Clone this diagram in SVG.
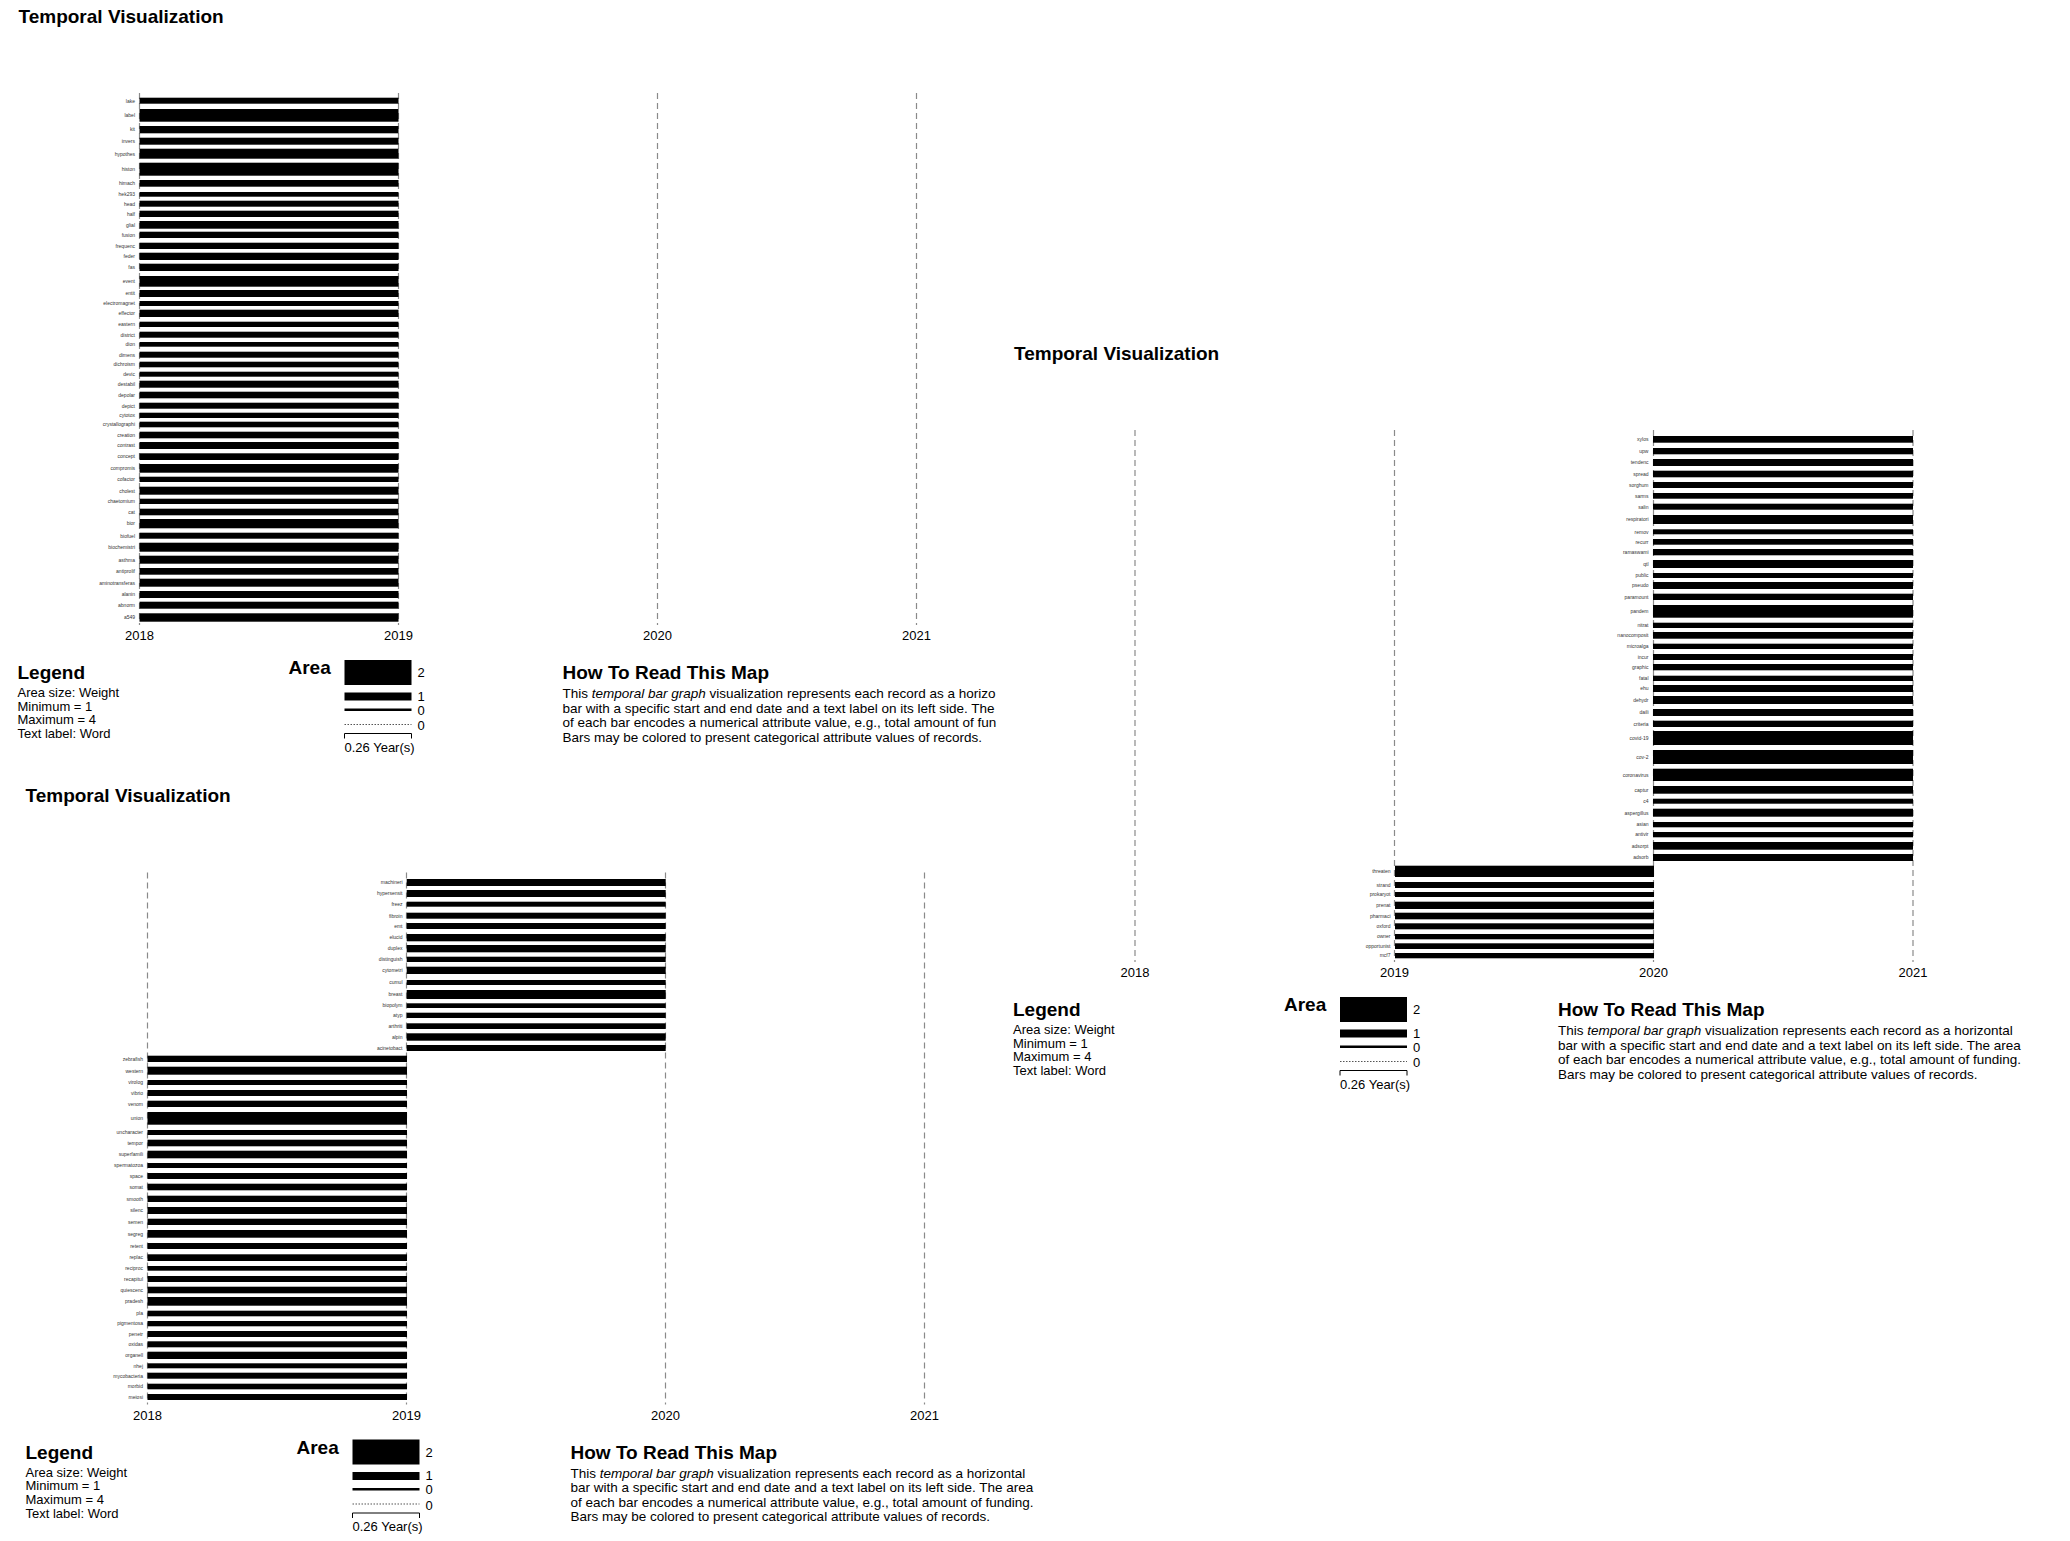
<svg xmlns="http://www.w3.org/2000/svg" width="2070" height="1541" viewBox="0 0 2070 1541">
<style>
text{font-family:"Liberation Sans",Arial,Helvetica,sans-serif;fill:#000}
.h{font-size:19px;font-weight:bold}
.t{font-size:13px}
.b{font-size:13.5px}
.yr{font-size:13px;text-anchor:middle}
.lb{font-size:5px;fill:#333;text-anchor:end}
.bars rect{fill:#000}
.grid line{stroke:#8a8a8a;stroke-width:1.2;stroke-dasharray:6,4}
.dot{stroke:#555;stroke-width:1.2;stroke-dasharray:1.5,1.5}
.brk{fill:none;stroke:#000;stroke-width:1}
</style>
<defs>
<clipPath id="clip1"><rect x="0" y="0" width="1002" height="800"/></clipPath>
</defs>
<rect width="2070" height="1541" fill="#fff"/>

<!-- ================= PANEL 1 ================= -->
<g id="panel-1">
<text class="h" x="18.5" y="23">Temporal Visualization</text>
<g id="grid-1" class="grid">
<line x1="139.5" y1="93" x2="139.5" y2="625"/>
<line x1="398.5" y1="93" x2="398.5" y2="625"/>
<line x1="657.5" y1="93" x2="657.5" y2="625"/>
<line x1="916.5" y1="93" x2="916.5" y2="625"/>
</g>
<g id="axis-1">
<text class="yr" x="139.5" y="640">2018</text>
<text class="yr" x="398.5" y="640">2019</text>
<text class="yr" x="657.5" y="640">2020</text>
<text class="yr" x="916.5" y="640">2021</text>
</g>
<g id="bars-1" class="bars">
<g id="p1-lake"><rect x="139.5" y="97.7" width="259" height="6"/><text class="lb" x="135" y="102.5">lake</text></g>
<g id="p1-label"><rect x="139.5" y="109" width="259" height="12.7"/><text class="lb" x="135" y="117.1">label</text></g>
<g id="p1-kit"><rect x="139.5" y="126" width="259" height="7.3"/><text class="lb" x="135" y="131.4">kit</text></g>
<g id="p1-invers"><rect x="139.5" y="137.7" width="259" height="7"/><text class="lb" x="135" y="143">invers</text></g>
<g id="p1-hypothes"><rect x="139.5" y="148.7" width="259" height="10"/><text class="lb" x="135" y="155.5">hypothes</text></g>
<g id="p1-histon"><rect x="139.5" y="162.7" width="259" height="13"/><text class="lb" x="135" y="171">histon</text></g>
<g id="p1-himach"><rect x="139.5" y="180" width="259" height="6.7"/><text class="lb" x="135" y="185.1">himach</text></g>
<g id="p1-hek293"><rect x="139.5" y="192" width="259" height="4.7"/><text class="lb" x="135" y="196.1">hek293</text></g>
<g id="p1-head"><rect x="139.5" y="200.7" width="259" height="6"/><text class="lb" x="135" y="205.5">head</text></g>
<g id="p1-half"><rect x="139.5" y="210.7" width="259" height="6.3"/><text class="lb" x="135" y="215.6">half</text></g>
<g id="p1-glial"><rect x="139.5" y="221" width="259" height="7.7"/><text class="lb" x="135" y="226.6">glial</text></g>
<g id="p1-fusion"><rect x="139.5" y="231.7" width="259" height="6.3"/><text class="lb" x="135" y="236.6">fusion</text></g>
<g id="p1-frequenc"><rect x="139.5" y="242.7" width="259" height="6.3"/><text class="lb" x="135" y="247.6">frequenc</text></g>
<g id="p1-feder"><rect x="139.5" y="252.7" width="259" height="7.3"/><text class="lb" x="135" y="258.1">feder</text></g>
<g id="p1-fas"><rect x="139.5" y="263.7" width="259" height="7.3"/><text class="lb" x="135" y="269.1">fas</text></g>
<g id="p1-event"><rect x="139.5" y="276" width="259" height="10.7"/><text class="lb" x="135" y="283.1">event</text></g>
<g id="p1-entit"><rect x="139.5" y="290" width="259" height="7"/><text class="lb" x="135" y="295.3">entit</text></g>
<g id="p1-electromagnet"><rect x="139.5" y="301" width="259" height="5"/><text class="lb" x="135" y="305.3">electromagnet</text></g>
<g id="p1-effector"><rect x="139.5" y="309.7" width="259" height="7.3"/><text class="lb" x="135" y="315.1">effector</text></g>
<g id="p1-eastern"><rect x="139.5" y="321.7" width="259" height="5.3"/><text class="lb" x="135" y="326.1">eastern</text></g>
<g id="p1-district"><rect x="139.5" y="331.7" width="259" height="6"/><text class="lb" x="135" y="336.5">district</text></g>
<g id="p1-dion"><rect x="139.5" y="342" width="259" height="4.7"/><text class="lb" x="135" y="346.1">dion</text></g>
<g id="p1-dimens"><rect x="139.5" y="351.7" width="259" height="6"/><text class="lb" x="135" y="356.5">dimens</text></g>
<g id="p1-dichroism"><rect x="139.5" y="361.7" width="259" height="5.6"/><text class="lb" x="135" y="366.3">dichroism</text></g>
<g id="p1-devic"><rect x="139.5" y="371.7" width="259" height="5"/><text class="lb" x="135" y="376">devic</text></g>
<g id="p1-destabil"><rect x="139.5" y="380.7" width="259" height="7"/><text class="lb" x="135" y="386">destabil</text></g>
<g id="p1-depolar"><rect x="139.5" y="391.7" width="259" height="6.6"/><text class="lb" x="135" y="396.8">depolar</text></g>
<g id="p1-depict"><rect x="139.5" y="402.7" width="259" height="6"/><text class="lb" x="135" y="407.5">depict</text></g>
<g id="p1-cytotox"><rect x="139.5" y="412.7" width="259" height="5.3"/><text class="lb" x="135" y="417.1">cytotox</text></g>
<g id="p1-crystallographi"><rect x="139.5" y="421.7" width="259" height="5.6"/><text class="lb" x="135" y="426.3">crystallographi</text></g>
<g id="p1-creation"><rect x="139.5" y="431.7" width="259" height="6.6"/><text class="lb" x="135" y="436.8">creation</text></g>
<g id="p1-contrast"><rect x="139.5" y="442" width="259" height="7"/><text class="lb" x="135" y="447.3">contrast</text></g>
<g id="p1-concept"><rect x="139.5" y="453.3" width="259" height="6.7"/><text class="lb" x="135" y="458.4">concept</text></g>
<g id="p1-compromis"><rect x="139.5" y="464" width="259" height="8.7"/><text class="lb" x="135" y="470.1">compromis</text></g>
<g id="p1-cofactor"><rect x="139.5" y="476.7" width="259" height="5.3"/><text class="lb" x="135" y="481.1">cofactor</text></g>
<g id="p1-cholest"><rect x="139.5" y="486.7" width="259" height="8"/><text class="lb" x="135" y="492.5">cholest</text></g>
<g id="p1-chaetomium"><rect x="139.5" y="498.7" width="259" height="5.3"/><text class="lb" x="135" y="503.1">chaetomium</text></g>
<g id="p1-cat"><rect x="139.5" y="508.7" width="259" height="6.6"/><text class="lb" x="135" y="513.8">cat</text></g>
<g id="p1-bior"><rect x="139.5" y="519" width="259" height="9.3"/><text class="lb" x="135" y="525.4">bior</text></g>
<g id="p1-biofuel"><rect x="139.5" y="532.7" width="259" height="6"/><text class="lb" x="135" y="537.5">biofuel</text></g>
<g id="p1-biochemistri"><rect x="139.5" y="542.7" width="259" height="9"/><text class="lb" x="135" y="549">biochemistri</text></g>
<g id="p1-asthma"><rect x="139.5" y="555.7" width="259" height="8"/><text class="lb" x="135" y="561.5">asthma</text></g>
<g id="p1-antiprolif"><rect x="139.5" y="568" width="259" height="6.7"/><text class="lb" x="135" y="573.1">antiprolif</text></g>
<g id="p1-aminotransferas"><rect x="139.5" y="578.7" width="259" height="8"/><text class="lb" x="135" y="584.5">aminotransferas</text></g>
<g id="p1-alanin"><rect x="139.5" y="591" width="259" height="7"/><text class="lb" x="135" y="596.3">alanin</text></g>
<g id="p1-abnorm"><rect x="139.5" y="601.7" width="259" height="7"/><text class="lb" x="135" y="607">abnorm</text></g>
<g id="p1-a549"><rect x="139.5" y="613.3" width="259" height="8.4"/><text class="lb" x="135" y="619.3">a549</text></g>
</g>
<g id="legend-1" transform="translate(139.5,93)">
<text class="h" x="-122" y="586">Legend</text>
<text class="t" x="-122" y="604">Area size: Weight</text>
<text class="t" x="-122" y="617.7">Minimum = 1</text>
<text class="t" x="-122" y="631.3">Maximum = 4</text>
<text class="t" x="-122" y="645">Text label: Word</text>
<text class="h" x="149" y="581">Area</text>
<rect x="205" y="567" width="67" height="25"/>
<text class="t" x="278" y="584">2</text>
<rect x="205" y="599.5" width="67" height="8"/>
<text class="t" x="278" y="607.5">1</text>
<rect x="205" y="615.5" width="67" height="2.5"/>
<text class="t" x="278" y="621.5">0</text>
<line class="dot" x1="205" y1="631.5" x2="272" y2="631.5"/>
<text class="t" x="278" y="637">0</text>
<path class="brk" d="M205,645.5 V640.5 H272 V645.5"/>
<text class="t" x="205" y="658.5">0.26 Year(s)</text>
<g clip-path="url(#clip1)" transform="translate(-139.5,-93)">
<text class="h" x="562.5" y="679">How To Read This Map</text>
<text class="b" x="562.5" y="698">This <tspan font-style="italic">temporal bar graph</tspan> visualization represents each record as a horizo</text>
<text class="b" x="562.5" y="712.5">bar with a specific start and end date and a text label on its left side. The</text>
<text class="b" x="562.5" y="727">of each bar encodes a numerical attribute value, e.g., total amount of fun</text>
<text class="b" x="562.5" y="741.5">Bars may be colored to present categorical attribute values of records.</text>
</g>
</g>
</g>

<!-- ================= PANEL 2 ================= -->
<g id="panel-2">
<text class="h" x="25.5" y="802">Temporal Visualization</text>
<g id="grid-2" class="grid">
<line x1="147.5" y1="872.5" x2="147.5" y2="1404.5"/>
<line x1="406.5" y1="872.5" x2="406.5" y2="1404.5"/>
<line x1="665.5" y1="872.5" x2="665.5" y2="1404.5"/>
<line x1="924.5" y1="872.5" x2="924.5" y2="1404.5"/>
</g>
<g id="axis-2">
<text class="yr" x="147.5" y="1419.5">2018</text>
<text class="yr" x="406.5" y="1419.5">2019</text>
<text class="yr" x="665.5" y="1419.5">2020</text>
<text class="yr" x="924.5" y="1419.5">2021</text>
</g>
<g id="bars-2" class="bars">
<g id="p2-machineri"><rect x="406.7" y="879" width="259" height="7"/><text class="lb" x="402.5" y="884.3">machineri</text></g>
<g id="p2-hypersensit"><rect x="406.7" y="890" width="259" height="7"/><text class="lb" x="402.5" y="895.3">hypersensit</text></g>
<g id="p2-freez"><rect x="406.7" y="901.7" width="259" height="5"/><text class="lb" x="402.5" y="906">freez</text></g>
<g id="p2-fibroin"><rect x="406.7" y="912.7" width="259" height="6"/><text class="lb" x="402.5" y="917.5">fibroin</text></g>
<g id="p2-emt"><rect x="406.7" y="923" width="259" height="6"/><text class="lb" x="402.5" y="927.8">emt</text></g>
<g id="p2-elucid"><rect x="406.7" y="934" width="259" height="7.3"/><text class="lb" x="402.5" y="939.4">elucid</text></g>
<g id="p2-duplex"><rect x="406.7" y="945" width="259" height="7.3"/><text class="lb" x="402.5" y="950.4">duplex</text></g>
<g id="p2-distinguish"><rect x="406.7" y="956.7" width="259" height="5.3"/><text class="lb" x="402.5" y="961.1">distinguish</text></g>
<g id="p2-cytometri"><rect x="406.7" y="966.7" width="259" height="7.3"/><text class="lb" x="402.5" y="972.1">cytometri</text></g>
<g id="p2-cumul"><rect x="406.7" y="980" width="259" height="5"/><text class="lb" x="402.5" y="984.3">cumul</text></g>
<g id="p2-breast"><rect x="406.7" y="990" width="259" height="9"/><text class="lb" x="402.5" y="996.3">breast</text></g>
<g id="p2-biopolym"><rect x="406.7" y="1003.3" width="259" height="4.7"/><text class="lb" x="402.5" y="1007.4">biopolym</text></g>
<g id="p2-atyp"><rect x="406.7" y="1012.7" width="259" height="5.3"/><text class="lb" x="402.5" y="1017.1">atyp</text></g>
<g id="p2-arthriti"><rect x="406.7" y="1023.3" width="259" height="5.7"/><text class="lb" x="402.5" y="1027.9">arthriti</text></g>
<g id="p2-alpin"><rect x="406.7" y="1033.3" width="259" height="7.4"/><text class="lb" x="402.5" y="1038.8">alpin</text></g>
<g id="p2-acinetobact"><rect x="406.7" y="1045" width="259" height="6"/><text class="lb" x="402.5" y="1049.8">acinetobact</text></g>
<g id="p2-zebrafish"><rect x="147.5" y="1055.7" width="259.5" height="6.3"/><text class="lb" x="143" y="1060.6">zebrafish</text></g>
<g id="p2-western"><rect x="147.5" y="1066.7" width="259.5" height="8"/><text class="lb" x="143" y="1072.5">western</text></g>
<g id="p2-virolog"><rect x="147.5" y="1080" width="259.5" height="5"/><text class="lb" x="143" y="1084.3">virolog</text></g>
<g id="p2-vibrio"><rect x="147.5" y="1090" width="259.5" height="6"/><text class="lb" x="143" y="1094.8">vibrio</text></g>
<g id="p2-venom"><rect x="147.5" y="1100.7" width="259.5" height="6.3"/><text class="lb" x="143" y="1105.6">venom</text></g>
<g id="p2-union"><rect x="147.5" y="1112" width="259.5" height="12.7"/><text class="lb" x="143" y="1120.1">union</text></g>
<g id="p2-uncharacter"><rect x="147.5" y="1130" width="259.5" height="5"/><text class="lb" x="143" y="1134.3">uncharacter</text></g>
<g id="p2-tempor"><rect x="147.5" y="1139.7" width="259.5" height="6.6"/><text class="lb" x="143" y="1144.8">tempor</text></g>
<g id="p2-superfamili"><rect x="147.5" y="1150.7" width="259.5" height="7.6"/><text class="lb" x="143" y="1156.3">superfamili</text></g>
<g id="p2-spermatozoa"><rect x="147.5" y="1163" width="259.5" height="5"/><text class="lb" x="143" y="1167.3">spermatozoa</text></g>
<g id="p2-space"><rect x="147.5" y="1173" width="259.5" height="6"/><text class="lb" x="143" y="1177.8">space</text></g>
<g id="p2-somat"><rect x="147.5" y="1183.7" width="259.5" height="6.6"/><text class="lb" x="143" y="1188.8">somat</text></g>
<g id="p2-smooth"><rect x="147.5" y="1195.7" width="259.5" height="6.3"/><text class="lb" x="143" y="1200.6">smooth</text></g>
<g id="p2-silenc"><rect x="147.5" y="1207" width="259.5" height="7"/><text class="lb" x="143" y="1212.3">silenc</text></g>
<g id="p2-semen"><rect x="147.5" y="1218.7" width="259.5" height="6.3"/><text class="lb" x="143" y="1223.6">semen</text></g>
<g id="p2-segreg"><rect x="147.5" y="1230" width="259.5" height="7.7"/><text class="lb" x="143" y="1235.6">segreg</text></g>
<g id="p2-retent"><rect x="147.5" y="1243" width="259.5" height="6"/><text class="lb" x="143" y="1247.8">retent</text></g>
<g id="p2-replac"><rect x="147.5" y="1254.3" width="259.5" height="6.7"/><text class="lb" x="143" y="1259.4">replac</text></g>
<g id="p2-reciproc"><rect x="147.5" y="1266" width="259.5" height="4.7"/><text class="lb" x="143" y="1270.1">reciproc</text></g>
<g id="p2-recapitul"><rect x="147.5" y="1276" width="259.5" height="6"/><text class="lb" x="143" y="1280.8">recapitul</text></g>
<g id="p2-quiescenc"><rect x="147.5" y="1286.7" width="259.5" height="6.6"/><text class="lb" x="143" y="1291.8">quiescenc</text></g>
<g id="p2-pradesh"><rect x="147.5" y="1297" width="259.5" height="8.7"/><text class="lb" x="143" y="1303.1">pradesh</text></g>
<g id="p2-pla"><rect x="147.5" y="1310.7" width="259.5" height="5.6"/><text class="lb" x="143" y="1315.3">pla</text></g>
<g id="p2-pigmentosa"><rect x="147.5" y="1321" width="259.5" height="5.3"/><text class="lb" x="143" y="1325.4">pigmentosa</text></g>
<g id="p2-penetr"><rect x="147.5" y="1331" width="259.5" height="6"/><text class="lb" x="143" y="1335.8">penetr</text></g>
<g id="p2-oxidas"><rect x="147.5" y="1341.3" width="259.5" height="6"/><text class="lb" x="143" y="1346.1">oxidas</text></g>
<g id="p2-organell"><rect x="147.5" y="1351.7" width="259.5" height="7.3"/><text class="lb" x="143" y="1357.1">organell</text></g>
<g id="p2-nhej"><rect x="147.5" y="1363.3" width="259.5" height="5"/><text class="lb" x="143" y="1367.6">nhej</text></g>
<g id="p2-mycobacteria"><rect x="147.5" y="1372.7" width="259.5" height="6"/><text class="lb" x="143" y="1377.5">mycobacteria</text></g>
<g id="p2-morbid"><rect x="147.5" y="1383.7" width="259.5" height="5.6"/><text class="lb" x="143" y="1388.3">morbid</text></g>
<g id="p2-meiosi"><rect x="147.5" y="1394" width="259.5" height="6"/><text class="lb" x="143" y="1398.8">meiosi</text></g>
</g>
<g id="legend-2" transform="translate(147.5,872.5)">
<text class="h" x="-122" y="586">Legend</text>
<text class="t" x="-122" y="604">Area size: Weight</text>
<text class="t" x="-122" y="617.7">Minimum = 1</text>
<text class="t" x="-122" y="631.3">Maximum = 4</text>
<text class="t" x="-122" y="645">Text label: Word</text>
<text class="h" x="149" y="581">Area</text>
<rect x="205" y="567" width="67" height="25"/>
<text class="t" x="278" y="584">2</text>
<rect x="205" y="599.5" width="67" height="8"/>
<text class="t" x="278" y="607.5">1</text>
<rect x="205" y="615.5" width="67" height="2.5"/>
<text class="t" x="278" y="621.5">0</text>
<line class="dot" x1="205" y1="631.5" x2="272" y2="631.5"/>
<text class="t" x="278" y="637">0</text>
<path class="brk" d="M205,645.5 V640.5 H272 V645.5"/>
<text class="t" x="205" y="658.5">0.26 Year(s)</text>
<text class="h" x="423" y="586">How To Read This Map</text>
<text class="b" x="423" y="605">This <tspan font-style="italic">temporal bar graph</tspan> visualization represents each record as a horizontal</text>
<text class="b" x="423" y="619.5">bar with a specific start and end date and a text label on its left side. The area</text>
<text class="b" x="423" y="634">of each bar encodes a numerical attribute value, e.g., total amount of funding.</text>
<text class="b" x="423" y="648.5">Bars may be colored to present categorical attribute values of records.</text>
</g>
</g>

<!-- ================= PANEL 3 ================= -->
<g id="panel-3">
<text class="h" x="1014" y="360">Temporal Visualization</text>
<g id="grid-3" class="grid">
<line x1="1135" y1="430" x2="1135" y2="962"/>
<line x1="1394.5" y1="430" x2="1394.5" y2="962"/>
<line x1="1653.5" y1="430" x2="1653.5" y2="962"/>
<line x1="1913" y1="430" x2="1913" y2="962"/>
</g>
<g id="axis-3">
<text class="yr" x="1135" y="977">2018</text>
<text class="yr" x="1394.5" y="977">2019</text>
<text class="yr" x="1653.5" y="977">2020</text>
<text class="yr" x="1913" y="977">2021</text>
</g>
<g id="bars-3" class="bars">
<g id="p3-xylos"><rect x="1653" y="436" width="260" height="6.7"/><text class="lb" x="1648.5" y="441.1">xylos</text></g>
<g id="p3-upw"><rect x="1653" y="448" width="260" height="6.3"/><text class="lb" x="1648.5" y="452.9">upw</text></g>
<g id="p3-tendenc"><rect x="1653" y="459" width="260" height="7"/><text class="lb" x="1648.5" y="464.3">tendenc</text></g>
<g id="p3-spread"><rect x="1653" y="470.7" width="260" height="6.6"/><text class="lb" x="1648.5" y="475.8">spread</text></g>
<g id="p3-sorghum"><rect x="1653" y="482" width="260" height="6"/><text class="lb" x="1648.5" y="486.8">sorghum</text></g>
<g id="p3-sarms"><rect x="1653" y="493" width="260" height="5.7"/><text class="lb" x="1648.5" y="497.6">sarms</text></g>
<g id="p3-salin"><rect x="1653" y="503.7" width="260" height="6"/><text class="lb" x="1648.5" y="508.5">salin</text></g>
<g id="p3-respiratori"><rect x="1653" y="515" width="260" height="9"/><text class="lb" x="1648.5" y="521.3">respiratori</text></g>
<g id="p3-remov"><rect x="1653" y="529.3" width="260" height="5"/><text class="lb" x="1648.5" y="533.6">remov</text></g>
<g id="p3-recurr"><rect x="1653" y="539" width="260" height="5.7"/><text class="lb" x="1648.5" y="543.6">recurr</text></g>
<g id="p3-ramaswami"><rect x="1653" y="549" width="260" height="6.3"/><text class="lb" x="1648.5" y="553.9">ramaswami</text></g>
<g id="p3-qtl"><rect x="1653" y="560" width="260" height="8"/><text class="lb" x="1648.5" y="565.8">qtl</text></g>
<g id="p3-public"><rect x="1653" y="573" width="260" height="5"/><text class="lb" x="1648.5" y="577.3">public</text></g>
<g id="p3-pseudo"><rect x="1653" y="582" width="260" height="7"/><text class="lb" x="1648.5" y="587.3">pseudo</text></g>
<g id="p3-paramount"><rect x="1653" y="593.7" width="260" height="6.3"/><text class="lb" x="1648.5" y="598.6">paramount</text></g>
<g id="p3-pandem"><rect x="1653" y="605" width="260" height="12.7"/><text class="lb" x="1648.5" y="613.1">pandem</text></g>
<g id="p3-nitrat"><rect x="1653" y="622.7" width="260" height="5.3"/><text class="lb" x="1648.5" y="627.1">nitrat</text></g>
<g id="p3-nanocomposit"><rect x="1653" y="632" width="260" height="6.7"/><text class="lb" x="1648.5" y="637.1">nanocomposit</text></g>
<g id="p3-microalga"><rect x="1653" y="643.7" width="260" height="5.3"/><text class="lb" x="1648.5" y="648.1">microalga</text></g>
<g id="p3-incur"><rect x="1653" y="654" width="260" height="6"/><text class="lb" x="1648.5" y="658.8">incur</text></g>
<g id="p3-graphic"><rect x="1653" y="664" width="260" height="6.3"/><text class="lb" x="1648.5" y="668.9">graphic</text></g>
<g id="p3-fatal"><rect x="1653" y="675.7" width="260" height="5.3"/><text class="lb" x="1648.5" y="680.1">fatal</text></g>
<g id="p3-ehu"><rect x="1653" y="685" width="260" height="7"/><text class="lb" x="1648.5" y="690.3">ehu</text></g>
<g id="p3-dehydr"><rect x="1653" y="696" width="260" height="8"/><text class="lb" x="1648.5" y="701.8">dehydr</text></g>
<g id="p3-daili"><rect x="1653" y="709" width="260" height="7"/><text class="lb" x="1648.5" y="714.3">daili</text></g>
<g id="p3-criteria"><rect x="1653" y="720.7" width="260" height="6.3"/><text class="lb" x="1648.5" y="725.6">criteria</text></g>
<g id="p3-covid-19"><rect x="1653" y="731" width="260" height="14"/><text class="lb" x="1648.5" y="739.8">covid-19</text></g>
<g id="p3-cov-2"><rect x="1653" y="750" width="260" height="14"/><text class="lb" x="1648.5" y="758.8">cov-2</text></g>
<g id="p3-coronavirus"><rect x="1653" y="768.7" width="260" height="12.3"/><text class="lb" x="1648.5" y="776.6">coronavirus</text></g>
<g id="p3-captur"><rect x="1653" y="786" width="260" height="7.7"/><text class="lb" x="1648.5" y="791.6">captur</text></g>
<g id="p3-c4"><rect x="1653" y="798.7" width="260" height="5"/><text class="lb" x="1648.5" y="803">c4</text></g>
<g id="p3-aspergillus"><rect x="1653" y="808.7" width="260" height="8"/><text class="lb" x="1648.5" y="814.5">aspergillus</text></g>
<g id="p3-asian"><rect x="1653" y="822" width="260" height="5.3"/><text class="lb" x="1648.5" y="826.4">asian</text></g>
<g id="p3-antivir"><rect x="1653" y="832" width="260" height="5.3"/><text class="lb" x="1648.5" y="836.4">antivir</text></g>
<g id="p3-adsorpt"><rect x="1653" y="842" width="260" height="7.7"/><text class="lb" x="1648.5" y="847.6">adsorpt</text></g>
<g id="p3-adsorb"><rect x="1653" y="854" width="260" height="7"/><text class="lb" x="1648.5" y="859.3">adsorb</text></g>
<g id="p3-threaten"><rect x="1395" y="865.7" width="259" height="11.3"/><text class="lb" x="1390.5" y="873.1">threaten</text></g>
<g id="p3-strand"><rect x="1395" y="882" width="259" height="6"/><text class="lb" x="1390.5" y="886.8">strand</text></g>
<g id="p3-prokaryot"><rect x="1395" y="892" width="259" height="5"/><text class="lb" x="1390.5" y="896.3">prokaryot</text></g>
<g id="p3-prenat"><rect x="1395" y="901.7" width="259" height="7.3"/><text class="lb" x="1390.5" y="907.1">prenat</text></g>
<g id="p3-pharmaci"><rect x="1395" y="912.7" width="259" height="6.6"/><text class="lb" x="1390.5" y="917.8">pharmaci</text></g>
<g id="p3-oxford"><rect x="1395" y="923.3" width="259" height="6"/><text class="lb" x="1390.5" y="928.1">oxford</text></g>
<g id="p3-owner"><rect x="1395" y="934" width="259" height="5.3"/><text class="lb" x="1390.5" y="938.4">owner</text></g>
<g id="p3-opportunist"><rect x="1395" y="943.3" width="259" height="5.7"/><text class="lb" x="1390.5" y="947.9">opportunist</text></g>
<g id="p3-mcf7"><rect x="1395" y="953" width="259" height="5.3"/><text class="lb" x="1390.5" y="957.4">mcf7</text></g>
</g>
<g id="legend-3" transform="translate(1135,430)">
<text class="h" x="-122" y="586">Legend</text>
<text class="t" x="-122" y="604">Area size: Weight</text>
<text class="t" x="-122" y="617.7">Minimum = 1</text>
<text class="t" x="-122" y="631.3">Maximum = 4</text>
<text class="t" x="-122" y="645">Text label: Word</text>
<text class="h" x="149" y="581">Area</text>
<rect x="205" y="567" width="67" height="25"/>
<text class="t" x="278" y="584">2</text>
<rect x="205" y="599.5" width="67" height="8"/>
<text class="t" x="278" y="607.5">1</text>
<rect x="205" y="615.5" width="67" height="2.5"/>
<text class="t" x="278" y="621.5">0</text>
<line class="dot" x1="205" y1="631.5" x2="272" y2="631.5"/>
<text class="t" x="278" y="637">0</text>
<path class="brk" d="M205,645.5 V640.5 H272 V645.5"/>
<text class="t" x="205" y="658.5">0.26 Year(s)</text>
<text class="h" x="423" y="586">How To Read This Map</text>
<text class="b" x="423" y="605">This <tspan font-style="italic">temporal bar graph</tspan> visualization represents each record as a horizontal</text>
<text class="b" x="423" y="619.5">bar with a specific start and end date and a text label on its left side. The area</text>
<text class="b" x="423" y="634">of each bar encodes a numerical attribute value, e.g., total amount of funding.</text>
<text class="b" x="423" y="648.5">Bars may be colored to present categorical attribute values of records.</text>
</g>
</g>
</svg>
